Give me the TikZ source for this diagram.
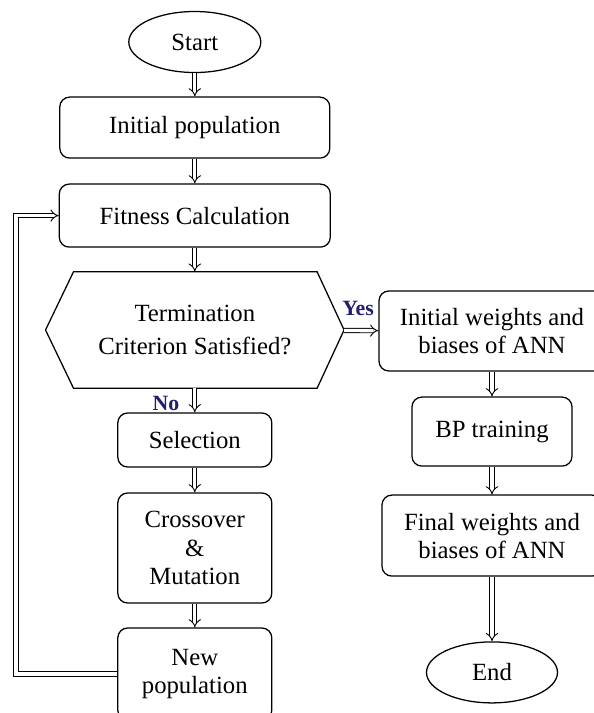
\documentclass[tikz,border=0pt]{standalone}
\usepackage{fontspec}
\setmainfont{Liberation Serif}
\usepackage{xcolor}
\usepackage{tikz}
\usetikzlibrary{arrows.meta,shapes.geometric,calc}
\definecolor{ynblue}{RGB}{31,31,110}

\begin{document}
\begin{tikzpicture}[
  font=\fontsize{17.6}{20}\selectfont,
  every node/.style={align=center},
  bx/.style={draw=black, rounded corners=7pt, line width=0.9pt, inner sep=2pt},
  ov/.style={draw=black, ellipse, line width=0.9pt, inner sep=0pt},
  dec/.style={inner sep=0pt, minimum width=7.45cm, minimum height=2.9cm},
  fl/.style={double, double distance=2.4pt, line width=0.65pt, -{Implies[scale=1.3]}},
  lbl/.style={font=\fontsize{15.5}{17}\selectfont\bfseries, text=ynblue},
]
\useasboundingbox (0,0) rectangle (14.85,-17.825);

% ---- GA column ----
\node[ov] (start) at (4.87,-1.05) [minimum width=3.3cm, minimum height=1.525cm] {Start};
\node[bx] (pop0) at (4.87,-3.19) [minimum width=6.75cm, minimum height=1.525cm] {Initial population};
\node[bx] (fit) at (4.87,-5.39) [minimum width=6.775cm, minimum height=1.575cm] {Fitness Calculation};
\node[dec] (term) at (4.87,-8.25) {Termination\\[3pt]Criterion Satisfied?};
\draw[line width=0.9pt] (term.west) -- ($(term.north west)+(0.7,0)$)
  -- ($(term.north east)+(-0.675,0)$) -- (term.east)
  -- ($(term.south east)+(-0.675,0)$) -- ($(term.south west)+(0.7,0)$) -- cycle;
\node[bx] (sel) at (4.87,-11.0) [minimum width=3.85cm, minimum height=1.35cm] {Selection};
\node[bx] (cxm) at (4.87,-13.7) [minimum width=3.85cm, minimum height=2.75cm] {Crossover\\\&\\Mutation};
\node[bx] (newpop) at (4.87,-16.85) [minimum width=3.85cm, minimum height=2.3cm] {New\\population};

% ---- ANN column ----
\node[bx] (iwb) at (12.3,-8.275) [minimum width=5.65cm, minimum height=2.0cm] {Initial weights and\\biases of ANN};
\node[bx] (bp) at (12.3,-10.79) [minimum width=4.0cm, minimum height=1.725cm] {BP training};
\node[bx] (fwb) at (12.3,-13.39) [minimum width=5.5cm, minimum height=2.025cm] {Final weights and\\biases of ANN};
\node[ov] (stop) at (12.3,-16.81) [minimum width=3.275cm, minimum height=1.525cm] {End};

\foreach \a/\b in {start/pop0, pop0/fit, fit/term, term/sel, sel/cxm, cxm/newpop,
                   term/iwb, iwb/bp, bp/fwb, fwb/stop}
  \draw[fl] (\a) -- (\b);

% ---- loop back ----
\coordinate (back) at (0.4,-11);
\draw[fl] (newpop.west) -| (back) |- (fit.west);

\node[lbl] (yes) at (8.95,-7.7) {Yes};
\node[lbl] (no) at (4.15,-10.075) {No};

\end{tikzpicture}
\end{document}
